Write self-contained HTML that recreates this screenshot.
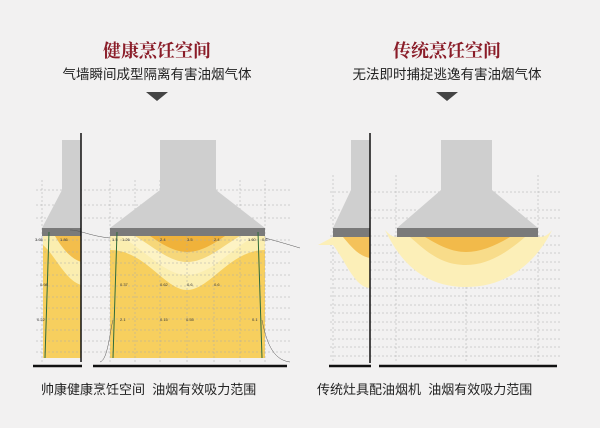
<!DOCTYPE html>
<html><head><meta charset="utf-8"><style>
html,body{margin:0;padding:0;background:#f2f1f1;}
svg{display:block;}
.t{font-family:"Liberation Serif","Noto Serif CJK SC",serif;font-weight:bold;fill:#8a1c28;font-size:18px;}
.s{font-family:"Liberation Sans","Noto Sans CJK SC",sans-serif;fill:#222;font-size:13.5px;}
.c{font-family:"Liberation Sans","Noto Sans CJK SC",sans-serif;fill:#222;font-size:13px;}
.g{stroke:#aaa;stroke-width:0.5;stroke-dasharray:2 2;}
.n{font-family:"Liberation Sans",sans-serif;font-size:4px;fill:#333;}
</style></head><body>
<svg width="600" height="428" viewBox="0 0 600 428" xmlns="http://www.w3.org/2000/svg">
<rect width="600" height="428" fill="#f2f1f1"/>
<text x="157" y="57" text-anchor="middle" class="t">健康烹饪空间</text>
<text x="157" y="79" text-anchor="middle" class="s">气墙瞬间成型隔离有害油烟气体</text>
<polygon points="146,92 168,92 157,101" fill="#444"/>
<text x="447" y="57" text-anchor="middle" class="t">传统烹饪空间</text>
<text x="447" y="79" text-anchor="middle" class="s">无法即时捕捉逃逸有害油烟气体</text>
<polygon points="436,92 458,92 447,101" fill="#444"/>

<!-- LEFT -->
<g>
<rect x="43" y="236" width="38" height="122" fill="#f7cf5e"/>
<rect x="110" y="236" width="155" height="122" fill="#f7cf5e"/>
<path d="M110,236 L265,236 L265,250 C230,250 210,290 187,290 C165,290 145,250 110,250Z" fill="#fbeeb0"/>
<path d="M120,236 L255,236 C230,250 210,275 187,275 C165,275 145,250 120,236Z" fill="#fdf3c4"/>
<path d="M135,236 L240,236 C220,248 205,262 187,262 C170,262 155,248 135,236Z" fill="#f6d77a"/>
<path d="M150,236 L225,236 C212,245 200,252 187,252 C175,252 163,245 150,236Z" fill="#f0b23a"/>
<path d="M43,236 L81,236 L81,285 C65,280 55,255 43,245Z" fill="#fbeeb0"/>
<path d="M55,236 L81,236 L81,262 C70,258 62,248 55,236Z" fill="#f3be4c"/>
<g class="g">
<line x1="36" y1="190" x2="290" y2="190"/><line x1="36" y1="205" x2="290" y2="205"/>
<line x1="36" y1="218" x2="290" y2="218"/><line x1="36" y1="240" x2="290" y2="240"/>
<line x1="36" y1="252" x2="290" y2="252"/><line x1="36" y1="263" x2="290" y2="263"/>
<line x1="36" y1="275" x2="290" y2="275"/><line x1="36" y1="286" x2="290" y2="286"/>
<line x1="36" y1="297" x2="290" y2="297"/><line x1="36" y1="308" x2="290" y2="308"/>
<line x1="36" y1="319" x2="290" y2="319"/><line x1="36" y1="330" x2="290" y2="330"/>
<line x1="36" y1="341" x2="290" y2="341"/><line x1="36" y1="352" x2="290" y2="352"/>
<line x1="42" y1="180" x2="42" y2="362"/><line x1="110" y1="180" x2="110" y2="362"/>
<line x1="135" y1="180" x2="135" y2="362"/><line x1="160" y1="180" x2="160" y2="362"/>
<line x1="187" y1="180" x2="187" y2="362"/><line x1="214" y1="180" x2="214" y2="362"/>
<line x1="240" y1="180" x2="240" y2="362"/><line x1="265" y1="180" x2="265" y2="362"/>
</g>
<rect x="62" y="140" width="19" height="52" fill="#cfcfcf"/>
<polygon points="62,190 81,190 81,228 42,228" fill="#cfcfcf"/>
<rect x="42" y="228" width="39" height="8" fill="#7a7a7a"/>
<rect x="160" y="140" width="56" height="52" fill="#cfcfcf"/>
<polygon points="160,190 216,190 265,228 110,228" fill="#cfcfcf"/>
<rect x="110" y="228" width="155" height="8" fill="#7a7a7a"/>
<g stroke="#2e6b3a" stroke-width="1" fill="none">
<line x1="45" y1="358" x2="49" y2="232"/><line x1="113" y1="358" x2="117" y2="232"/><line x1="262" y1="358" x2="258" y2="232"/>
</g>
<g stroke="#555" stroke-width="0.5" fill="none">
<path d="M100,362 C108,360 110,330 113,320"/><path d="M262,320 C266,340 272,360 290,362"/>
<path d="M110,238 C90,236 80,230 70,230"/><path d="M265,238 C280,242 290,245 300,248"/>
</g>
<g class="n"><text x="35" y="241">3.65</text><text x="60" y="241">1.86</text><text x="112" y="241">1.5</text><text x="122" y="241">1.26</text><text x="160" y="241">2.4</text><text x="187" y="241">3.5</text><text x="214" y="241">2.4</text><text x="248" y="241">1.60</text><text x="262" y="241">0.6</text>
<text x="40" y="286">0.98</text><text x="120" y="286">0.37</text><text x="160" y="286">0.62</text><text x="187" y="286">0.6</text><text x="214" y="286">0.6</text>
<text x="37" y="321">0.22</text><text x="120" y="321">2.1</text><text x="160" y="321">0.15</text><text x="186" y="321">0.55</text><text x="252" y="321">0.1</text></g>
<line x1="81" y1="133" x2="81" y2="362" stroke="#111" stroke-width="1.5"/>
<line x1="33" y1="366" x2="82" y2="366" stroke="#111" stroke-width="2.5"/>
<line x1="93" y1="366" x2="287" y2="366" stroke="#111" stroke-width="2.5"/>
</g>

<!-- RIGHT -->
<g>
<g class="g">
<line x1="330" y1="192" x2="560" y2="192"/><line x1="330" y1="210" x2="560" y2="210"/><line x1="330" y1="218" x2="560" y2="218"/>
<line x1="330" y1="236" x2="560" y2="236"/><line x1="330" y1="245" x2="560" y2="245"/><line x1="330" y1="253" x2="560" y2="253"/>
<line x1="330" y1="262" x2="560" y2="262"/><line x1="330" y1="270" x2="560" y2="270"/><line x1="330" y1="279" x2="560" y2="279"/>
<line x1="330" y1="288" x2="560" y2="288"/><line x1="330" y1="296" x2="560" y2="296"/><line x1="330" y1="305" x2="560" y2="305"/>
<line x1="330" y1="313" x2="560" y2="313"/><line x1="330" y1="322" x2="560" y2="322"/><line x1="330" y1="330" x2="560" y2="330"/>
<line x1="330" y1="339" x2="560" y2="339"/><line x1="330" y1="347" x2="560" y2="347"/><line x1="330" y1="356" x2="560" y2="356"/>
<line x1="333" y1="175" x2="333" y2="362"/><line x1="396" y1="175" x2="396" y2="362"/><line x1="466" y1="175" x2="466" y2="362"/><line x1="538" y1="175" x2="538" y2="362"/>
</g>
<path d="M333,237 L370,237 L370,288 C355,288 345,260 333,245Z" fill="#fcefb8"/>
<path d="M318,245 L333,237 L340,245Z" fill="#fcefb8"/>
<path d="M343,237 L370,237 L370,258 C358,256 350,245 343,237Z" fill="#f4c25a"/>
<path d="M385,230 C390,235 392,237 397,237 L538,237 C545,237 548,235 552,230 C545,245 520,287 466,287 C415,287 395,250 385,230Z" fill="#fcefb8"/>
<path d="M410,237 L525,237 C510,250 490,265 466,265 C440,265 425,250 410,237Z" fill="#f8dc8a"/>
<path d="M425,237 L510,237 C495,246 480,252 466,252 C452,252 440,246 425,237Z" fill="#f2ba4a"/>
<rect x="351" y="140" width="19" height="52" fill="#cfcfcf"/>
<polygon points="351,190 370,190 370,228 333,228" fill="#cfcfcf"/>
<rect x="333" y="228" width="37" height="9" fill="#7a7a7a"/>
<rect x="441" y="140" width="51" height="52" fill="#cfcfcf"/>
<polygon points="441,190 492,190 538,228 397,228" fill="#cfcfcf"/>
<rect x="397" y="228" width="141" height="9" fill="#7a7a7a"/>
<line x1="370" y1="133" x2="370" y2="363" stroke="#111" stroke-width="1.5"/>
<line x1="329" y1="366" x2="371" y2="366" stroke="#111" stroke-width="2.5"/>
<line x1="379" y1="366" x2="557" y2="366" stroke="#111" stroke-width="2.5"/>
</g>

<text x="41" y="394" class="c" xml:space="preserve">帅康健康烹饪空间  油烟有效吸力范围</text>
<text x="317" y="394" class="c" xml:space="preserve">传统灶具配油烟机  油烟有效吸力范围</text>
</svg>
</body></html>
